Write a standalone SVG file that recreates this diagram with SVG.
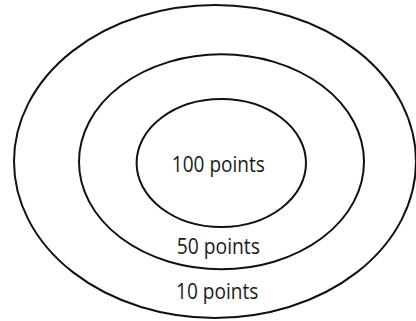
<svg xmlns="http://www.w3.org/2000/svg" width="416" height="321" viewBox="0 0 416 321">
<style>
.ring{fill:none;stroke:#111;stroke-width:2}
.lbl{font-family:"Open Sans","Liberation Sans",sans-serif;font-size:21px;fill:#1a1a1a;text-anchor:middle}
</style>
<rect width="416" height="321" fill="#fff"/>
<g id="outer"><ellipse class="ring" cx="215" cy="161.5" rx="201" ry="156.5"/><text class="lbl" x="217.2" y="299.3" textLength="82.3" lengthAdjust="spacingAndGlyphs">10 points</text></g>
<g id="middle"><ellipse class="ring" cx="221.5" cy="161.8" rx="142.5" ry="107.5"/><text class="lbl" x="218.3" y="254.3" textLength="83.3" lengthAdjust="spacingAndGlyphs">50 points</text></g>
<g id="inner"><ellipse class="ring" cx="221.3" cy="163" rx="84.7" ry="64"/><text class="lbl" x="218.3" y="171.7" textLength="93" lengthAdjust="spacingAndGlyphs">100 points</text></g>
<g id="connectors"/>
</svg>
